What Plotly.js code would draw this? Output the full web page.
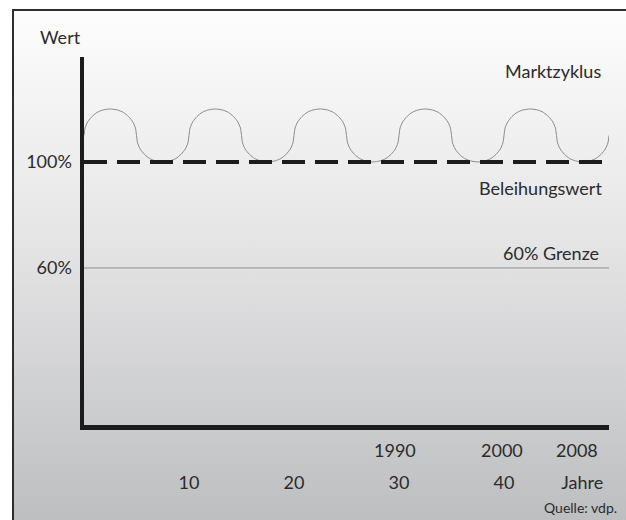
<!DOCTYPE html>
<html>
<head>
<meta charset="utf-8">
<script src="https://cdn.plot.ly/plotly-3.0.1.min.js"></script>
<style>
  html, body { margin:0; padding:0; width:626px; height:520px; overflow:hidden; background:#ffffff; }
  #wrap { position:relative; width:626px; height:520px; overflow:hidden; }
  #frame { position:absolute; left:12px; top:9px; width:640px; height:540px;
           border-left:2px solid #2e2e2e; border-top:2px solid #2e2e2e;
           background:linear-gradient(to bottom, #fdfdfd 0px, #e6e6e7 220px, #bdbec0 511px); }
  #chart { position:absolute; left:0; top:0; width:626px; height:520px; }
</style>
</head>
<body>
<div id="wrap">
  <div id="frame"></div>
  <div id="chart"></div>
</div>
<script>
// Market cycle (Marktzyklus), years vs. value in %
const marketX = [
  0,0.1,0.35,0.75,1.25,1.8,2.5,3.2,3.75,4.25,4.65,4.9,
  5,5.1,5.35,5.75,6.25,6.8,7.5,8.2,8.75,9.25,9.65,9.9,
  10,10.1,10.35,10.75,11.25,11.8,12.5,13.2,13.75,14.25,14.65,14.9,
  15,15.1,15.35,15.75,16.25,16.8,17.5,18.2,18.75,19.25,19.65,19.9,
  20,20.1,20.35,20.75,21.25,21.8,22.5,23.2,23.75,24.25,24.65,24.9,
  25,25.1,25.35,25.75,26.25,26.8,27.5,28.2,28.75,29.25,29.65,29.9,
  30,30.1,30.35,30.75,31.25,31.8,32.5,33.2,33.75,34.25,34.65,34.9,
  35,35.1,35.35,35.75,36.25,36.8,37.5,38.2,38.75,39.25,39.65,39.9,
  40,40.1,40.35,40.75,41.25,41.8,42.5,43.2,43.75,44.25,44.65,44.9,
  45,45.1,45.35,45.75,46.25,46.8,47.5,48.2,48.75,49.25,49.65,49.9,
  50];
const marketY = [
  110,112.8,115.1,117.1,118.7,119.6,120,119.6,118.7,117.1,115.1,112.8,
  110,107.2,104.9,102.9,101.3,100.4,100,100.4,101.3,102.9,104.9,107.2,
  110,112.8,115.1,117.1,118.7,119.6,120,119.6,118.7,117.1,115.1,112.8,
  110,107.2,104.9,102.9,101.3,100.4,100,100.4,101.3,102.9,104.9,107.2,
  110,112.8,115.1,117.1,118.7,119.6,120,119.6,118.7,117.1,115.1,112.8,
  110,107.2,104.9,102.9,101.3,100.4,100,100.4,101.3,102.9,104.9,107.2,
  110,112.8,115.1,117.1,118.7,119.6,120,119.6,118.7,117.1,115.1,112.8,
  110,107.2,104.9,102.9,101.3,100.4,100,100.4,101.3,102.9,104.9,107.2,
  110,112.8,115.1,117.1,118.7,119.6,120,119.6,118.7,117.1,115.1,112.8,
  110,107.2,104.9,102.9,101.3,100.4,100,100.4,101.3,102.9,104.9,107.2,
  110];

// Beleihungswert (100%) and 60% Grenze
const lendingX = [0, 50];
const lendingY = [100, 100];
const limitX = [0, 50];
const limitY = [60, 60];

// Axis ticks
const yTickVals = [60, 100];
const yTickText = ['60%', '100%'];
const xTickVals = [10, 20, 30, 40, 47.45];
const xTickText = ['10', '20', '30', '40', 'Jahre'];
const yearPos = [29.6, 39.8, 46.95];
const yearText = ['1990', '2000', '2008'];

const FONT = 'Lato, Noto Sans, sans-serif';
const TXT = '#2b2b2b';
const FS = 18;

const traces = [
  { x: limitX, y: limitY, type: 'scatter', mode: 'lines',
    line: { color: '#8c8c8c', width: 1 } },
  { x: marketX, y: marketY, type: 'scatter', mode: 'lines',
    line: { color: '#8a8a8a', width: 1, shape: 'spline', smoothing: 0.6 } },
  { x: lendingX, y: lendingY, type: 'scatter', mode: 'lines',
    line: { color: '#1c1c1c', width: 4, dash: '23px,10px' } }
];

const annotations = [
  { text: 'Wert', xref: 'paper', yref: 'paper', x: -0.0457, y: 1.054,
    xanchor: 'center', yanchor: 'middle', showarrow: false,
    font: { family: FONT, size: FS, color: TXT } },
  { text: 'Marktzyklus', xref: 'x', yref: 'y', x: 49.45, y: 134.5,
    xanchor: 'right', yanchor: 'middle', showarrow: false,
    font: { family: FONT, size: FS, color: TXT } },
  { text: 'Beleihungswert', xref: 'x', yref: 'y', x: 49.5, y: 90.2,
    xanchor: 'right', yanchor: 'middle', showarrow: false,
    font: { family: FONT, size: FS, color: TXT } },
  { text: '60% Grenze', xref: 'x', yref: 'y', x: 49.25, y: 65.6,
    xanchor: 'right', yanchor: 'middle', showarrow: false,
    font: { family: FONT, size: FS, color: TXT } },
  { text: 'Quelle: vdp.', xref: 'paper', yref: 'paper', x: 1.019, y: -0.224,
    xanchor: 'right', yanchor: 'middle', showarrow: false,
    font: { family: FONT, size: 14, color: TXT } }
];
yearText.forEach((t, i) => annotations.push({
  text: t, xref: 'x', yref: 'paper', x: yearPos[i], y: -0.068,
  xanchor: 'center', yanchor: 'middle', showarrow: false,
  font: { family: FONT, size: FS, color: TXT }
}));

const layout = {
  width: 626, height: 520,
  margin: { l: 84, r: 17, t: 57, b: 95 },
  paper_bgcolor: 'rgba(0,0,0,0)',
  plot_bgcolor: 'rgba(0,0,0,0)',
  showlegend: false,
  hovermode: false,
  font: { family: FONT, size: FS, color: TXT },
  xaxis: {
    range: [0, 50], showgrid: false, zeroline: false,
    showline: true, linewidth: 4.5, linecolor: '#1c1c1c',
    tickmode: 'array', tickvals: xTickVals, ticktext: xTickText,
    ticks: '', ticklabelstandoff: 38,
    tickfont: { family: FONT, size: FS, color: TXT }
  },
  yaxis: {
    range: [0.75, 139.6], showgrid: false, zeroline: false,
    showline: true, linewidth: 4.5, linecolor: '#1c1c1c',
    tickmode: 'array', tickvals: yTickVals, ticktext: yTickText,
    ticks: '', ticklabelstandoff: 4,
    tickfont: { family: FONT, size: FS, color: TXT }
  },
  annotations: annotations
};

Plotly.newPlot('chart', traces, layout, { staticPlot: true, displayModeBar: false });
</script>
</body>
</html>
